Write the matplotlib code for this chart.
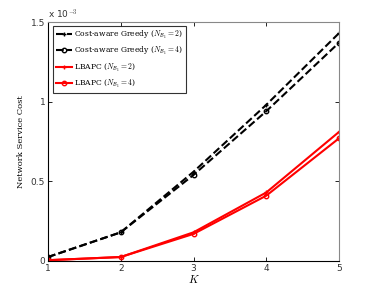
import matplotlib
matplotlib.use("Agg")
import matplotlib.pyplot as plt

# values in units of 1e-3
K = [1, 2, 3, 4, 5]
greedy_n2 = [0.025, 0.18, 0.56, 0.98, 1.43]
greedy_n4 = [0.025, 0.18, 0.54, 0.94, 1.37]
lbapc_n2 = [0.005, 0.025, 0.18, 0.43, 0.81]
lbapc_n4 = [0.005, 0.025, 0.17, 0.41, 0.77]

plt.rcParams['mathtext.fontset'] = 'cm'

fig = plt.figure(figsize=(3.74, 2.94), dpi=100)
ax = fig.add_axes([48 / 374, 1 - 261 / 294, 291 / 374, 239 / 294])

ax.plot(K, greedy_n2, 'k--', marker='+', ms=3.5, mew=1.0, lw=1.5,
        label=r'Cost-aware Greedy ($N_{\mathcal{B}_1} = 2$)')
ax.plot(K, greedy_n4, 'k--', marker='o', ms=3.2, mfc='none', mew=1.0, lw=1.5,
        label=r'Cost-aware Greedy ($N_{\mathcal{B}_1} = 4$)')
ax.plot(K, lbapc_n2, 'r-', marker='+', ms=3.5, mew=1.0, lw=1.5,
        label=r'LBAPC ($N_{\mathcal{B}_1} = 2$)')
ax.plot(K, lbapc_n4, 'r-', marker='o', ms=3.2, mfc='none', mew=1.0, lw=1.5,
        label=r'LBAPC ($N_{\mathcal{B}_1} = 4$)')

ax.set_xlim(1, 5)
ax.set_ylim(0, 1.5)
ax.set_xticks(K)
ax.set_yticks([0, 0.5, 1, 1.5])
ax.set_yticklabels(['0', '0.5', '1', '1.5'])
ax.tick_params(labelsize=6.5, direction='in', length=3, width=0.6, pad=2,
               top=True, right=True, labelcolor='#333333')
for s in ax.spines.values():
    s.set_linewidth(0.8)
ax.spines['top'].set_color('#888888')
ax.spines['right'].set_color('#888888')

ax.set_xlabel(r'$K$', fontsize=8, labelpad=0)
ax.set_ylabel('Network Service Cost', fontsize=6, family='DejaVu Serif', labelpad=4)
ax.text(0, 1.005, r'x 10$^{-3}$', transform=ax.transAxes, fontsize=6.5,
        ha='left', va='bottom', color='#333333')

leg = ax.legend(loc='upper left', prop={'family': 'DejaVu Serif', 'size': 5.5},
                fancybox=False, edgecolor='black', handlelength=2.2,
                borderpad=0.35, labelspacing=0.55, handletextpad=0.2,
                bbox_to_anchor=(0.012, 0.99), borderaxespad=0.2)
leg.get_frame().set_linewidth(0.8)

fig.savefig('out.png', dpi=100)
